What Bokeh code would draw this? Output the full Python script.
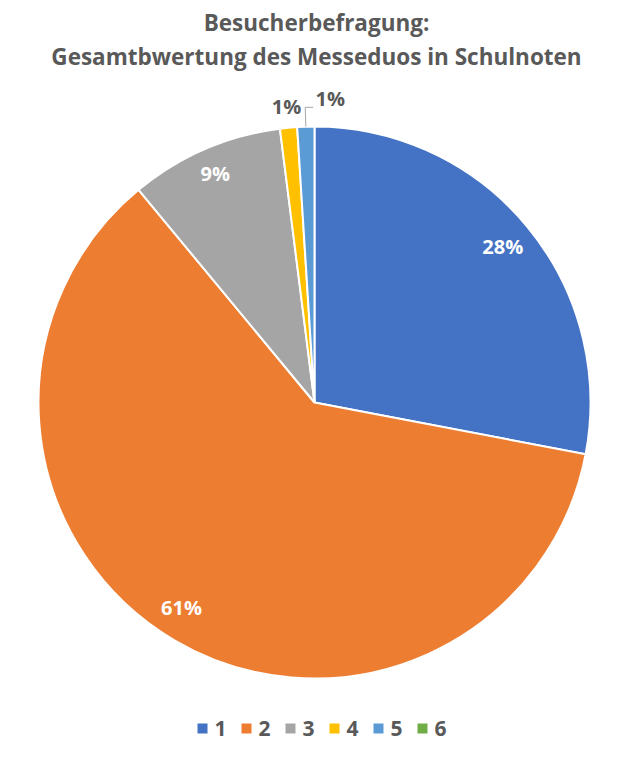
import math
from bokeh.plotting import figure
from bokeh.models import Range1d, ColumnDataSource
from bokeh.core.properties import value
from bokeh.embed import file_html
from bokeh.resources import INLINE

# ---- data ----
categories = ["1", "2", "3", "4", "5", "6"]
shares = [28, 61, 9, 1, 1, 0]
colors = ["#4472C4", "#ED7D31", "#A5A5A5", "#FFC000", "#5B9BD5", "#70AD47"]
title_lines = ["Besucherbefragung:", "Gesamtbwertung des Messeduos in Schulnoten"]

W, H = 619, 743
FONT = "Open Sans"
GRAY = "#595959"

p = figure(width=W, height=H, x_range=Range1d(0, W), y_range=Range1d(0, H),
           output_backend="svg", toolbar_location=None, min_border=0)
p.axis.visible = False
p.grid.visible = False
p.outline_line_color = None
p.background_fill_color = "white"
p.border_fill_color = "white"

cx, cy, R = 314, 341, 276
total = float(sum(shares))

starts, ends, mids = [], [], []
cum = 0.0
for s in shares:
    a0 = math.pi / 2 - 2 * math.pi * cum / total
    cum += s
    a1 = math.pi / 2 - 2 * math.pi * cum / total
    starts.append(a0)
    ends.append(a1)
    mids.append((a0 + a1) / 2)

keep = [i for i, s in enumerate(shares) if s > 0]
src = ColumnDataSource(dict(
    x=[cx] * len(keep), y=[cy] * len(keep),
    start=[starts[i] for i in keep], end=[ends[i] for i in keep],
    color=[colors[i] for i in keep]))
p.wedge(x="x", y="y", radius=R, start_angle="start", end_angle="end",
        direction="clock", fill_color="color", line_color="white",
        line_width=2, source=src)

# label placement tweaks (radius factor, angle nudge in degrees) per slice
label_r = [0.885, 0.885, 0.905, 1.078, 1.07, 1.0]
label_nudge = [0.0, -2.4, 0.0, 0.0, 0.0, 0.0]

# ---- data labels ----
in_x, in_y, in_t = [], [], []
out_x, out_y, out_t = [], [], []
lead_x, lead_y = [], []
outside_count = 0
for i in keep:
    txt = f"{shares[i]}%"
    m = mids[i] + math.radians(label_nudge[i])
    r = label_r[i] * R
    if shares[i] >= 5:
        in_x.append(cx + r * math.cos(m))
        in_y.append(cy + r * math.sin(m))
        in_t.append(txt)
    else:
        if outside_count == 0:
            out_x.append(cx + r * math.cos(m))
            out_y.append(cy + r * math.sin(m))
            out_t.append(txt)
        else:
            # shifted label with leader line
            ex = cx + R * math.cos(m)
            ey = cy + R * math.sin(m)
            kx = cx + r * math.cos(m)
            ky = cy + r * math.sin(m)
            lead_x.append([ex, kx, kx + 8])
            lead_y.append([ey, ky, ky])
            out_x.append(kx + 25)
            out_y.append(ky + 9)
            out_t.append(txt)
        outside_count += 1

if lead_x:
    p.multi_line(xs=lead_x, ys=lead_y, line_color="#A6A6A6", line_width=1)

p.text(x=in_x, y=in_y, text=in_t, text_color="white",
       text_font=value(FONT), text_font_style="bold", text_font_size="20px",
       text_align="center", text_baseline="middle")
p.text(x=out_x, y=out_y, text=out_t, text_color=GRAY,
       text_font=value(FONT), text_font_style="bold", text_font_size="20px",
       text_align="center", text_baseline="middle")

# ---- title ----
p.text(x=[316, 316], y=[721, 687], text=title_lines, text_color=GRAY,
       text_font=value(FONT), text_font_style="bold", text_font_size="22.5px",
       text_align="center", text_baseline="middle")

# ---- legend ----
n = len(categories)
step = 44
lx0 = 202
ly = 15
sq_x = [lx0 + k * step for k in range(n)]
p.rect(x=sq_x, y=[ly] * n, width=10, height=10, fill_color=colors,
       line_color=None)
p.text(x=[xx + 12 for xx in sq_x], y=[ly] * n, text=categories,
       text_color=GRAY, text_font=value(FONT), text_font_style="bold",
       text_font_size="21px", text_align="left", text_baseline="middle")

open("out.html", "w").write(file_html(p, INLINE))
